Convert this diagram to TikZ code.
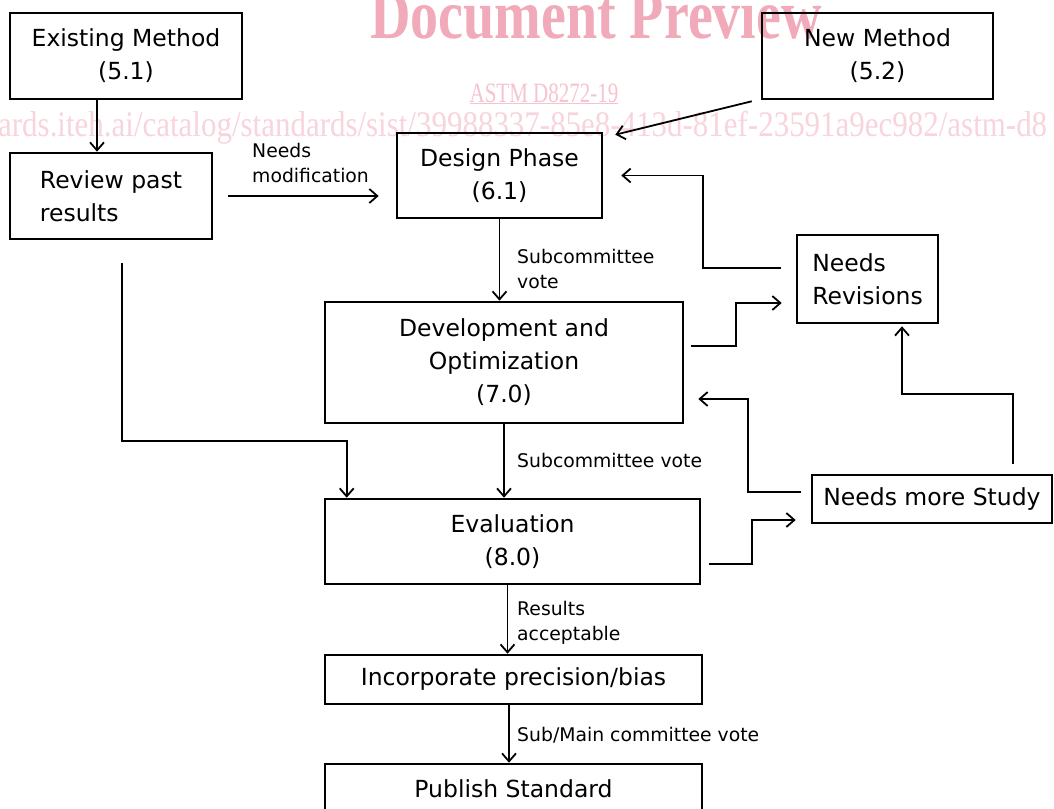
\documentclass[tikz,border=0pt]{standalone}
\usepackage{fontspec}
\setmainfont{DejaVu Sans}
\newfontfamily\wmfont{Liberation Serif}
\usetikzlibrary{arrows.meta}
\definecolor{wmA}{RGB}{240,170,185}
\definecolor{wmB}{RGB}{245,196,207}
\definecolor{wmC}{RGB}{248,212,220}
\tikzset{
 box/.style={draw, line width=2.6pt, inner sep=0pt, align=center, font=\fontsize{23.5}{33}\selectfont},
 lbl/.style={inner sep=0pt, align=left, font=\fontsize{18.8}{25}\selectfont, anchor=north west},
 conn/.style={line width=1.8pt, -{Straight Barb[length=8pt,width=14pt,line width=1.8pt]}},
 wm/.style={inner sep=0pt},
}
\begin{document}
\begin{tikzpicture}[x=1pt,y=-1pt]
\useasboundingbox (0,0) rectangle (1054,808);
\fill[white] (0,0) rectangle (1054,808);
\clip (0,0) rectangle (1054,808);
% watermark
\node[wm, anchor=base, text=wmA, font=\wmfont\bfseries\fontsize{70}{72}\selectfont, xscale=0.8, transform shape] (wm1) at (596,38) {Document Preview};
\node[wm, anchor=base, text=wmB, font=\wmfont\fontsize{28}{30}\selectfont, xscale=0.75, transform shape] (wm2) at (544,102) {\underline{ASTM D8272-19}};
\node[wm, anchor=base west, text=wmC, font=\wmfont\fontsize{36}{38}\selectfont, xscale=0.86, transform shape] (wm3) at (-2,136) {ards.iteh.ai/catalog/standards/sist/39988337-85e8-413d-81ef-23591a9ec982/astm-d8};
% boxes
\node[box, minimum width=232pt, minimum height=86pt] (ex) at (126,56) {Existing Method\\(5.1)};
\node[box, minimum width=231pt, minimum height=86pt] (nm) at (877.5,56) {New Method\\(5.2)};
\node[box, minimum width=202pt, minimum height=86pt, align=left] (rev) at (111,196) {Review past\\results};
\node[box, minimum width=205pt, minimum height=85pt] (des) at (499.5,175.5) {Design Phase\\(6.1)};
\node[box, minimum width=358pt, minimum height=121pt] (dev) at (504,362.5) {Development and\\Optimization\\(7.0)};
\node[box, minimum width=141pt, minimum height=88pt, align=left] (nr) at (867.5,279) {Needs\\Revisions};
\node[box, minimum width=240pt, minimum height=48pt] (nms) at (932,499) {Needs more Study};
\node[box, minimum width=375pt, minimum height=85pt] (ev) at (512.5,541.5) {Evaluation\\(8.0)};
\node[box, minimum width=377pt, minimum height=49pt] (inc) at (513.5,679.5) {Incorporate precision/bias};
\node[box, minimum width=377pt, minimum height=49pt] (pub) at (513.5,788.5) {Publish Standard};
% connectors
\draw[conn] ([xshift=-29pt]ex.south) -- ([xshift=-14pt]rev.north);
\draw[conn] ([xshift=-9pt,yshift=-1pt]nm.south west) -- ([xshift=12pt,yshift=-3pt]des.north east);
\draw[conn] ([xshift=15pt]rev.east) -- ([xshift=-17pt]des.west |- rev.east);
\draw[conn] (des.south) -- (des.south |- dev.north);
\draw[conn] ([xshift=-15pt,yshift=11pt]nr.west) -| ([xshift=100pt]des.east) -- ([xshift=18pt]des.east);
\draw[conn] ([xshift=7pt,yshift=16.5pt]dev.east) -| ([xshift=-60pt,yshift=-24pt]nr.west) -- ([xshift=-14pt,yshift=-24pt]nr.west);
\draw[conn] ([xshift=-10pt,yshift=7pt]nms.west) -| ([xshift=64pt,yshift=-36.5pt]dev.east) -- ([xshift=14pt,yshift=-36.5pt]dev.east);
\draw[conn] ([xshift=81pt,yshift=10pt]nms.north) |- ([xshift=34.5pt,yshift=-70pt]nr.south) -- ([xshift=34.5pt,yshift=-2pt]nr.south);
\draw[conn] (dev.south) -- (dev.south |- ev.north);
\draw[conn] ([xshift=11pt,yshift=-23pt]rev.south) |- ([xshift=23pt,yshift=57pt]ev.north west) -- ([xshift=23pt]ev.north west);
\draw[conn] ([xshift=8pt,yshift=-22.5pt]ev.east) -| ([xshift=-59pt,yshift=-21pt]nms.west) -- ([xshift=-15pt,yshift=-21pt]nms.west);
\draw[conn] ([xshift=-5pt]ev.south) -- ([xshift=-5pt]ev.south |- inc.north);
\draw[conn] ([xshift=-4.5pt]inc.south) -- ([xshift=-4.5pt]inc.south |- pub.north);
% labels
\node[lbl] (l1) at (252,143) {Needs\\modification};
\node[lbl] (l2) at (517,249) {Subcommittee\\vote};
\node[lbl] (l3) at (517,453) {Subcommittee vote};
\node[lbl] (l4) at (517,601) {Results\\acceptable};
\node[lbl] (l5) at (517,727) {Sub/Main committee vote};
\end{tikzpicture}
\end{document}
